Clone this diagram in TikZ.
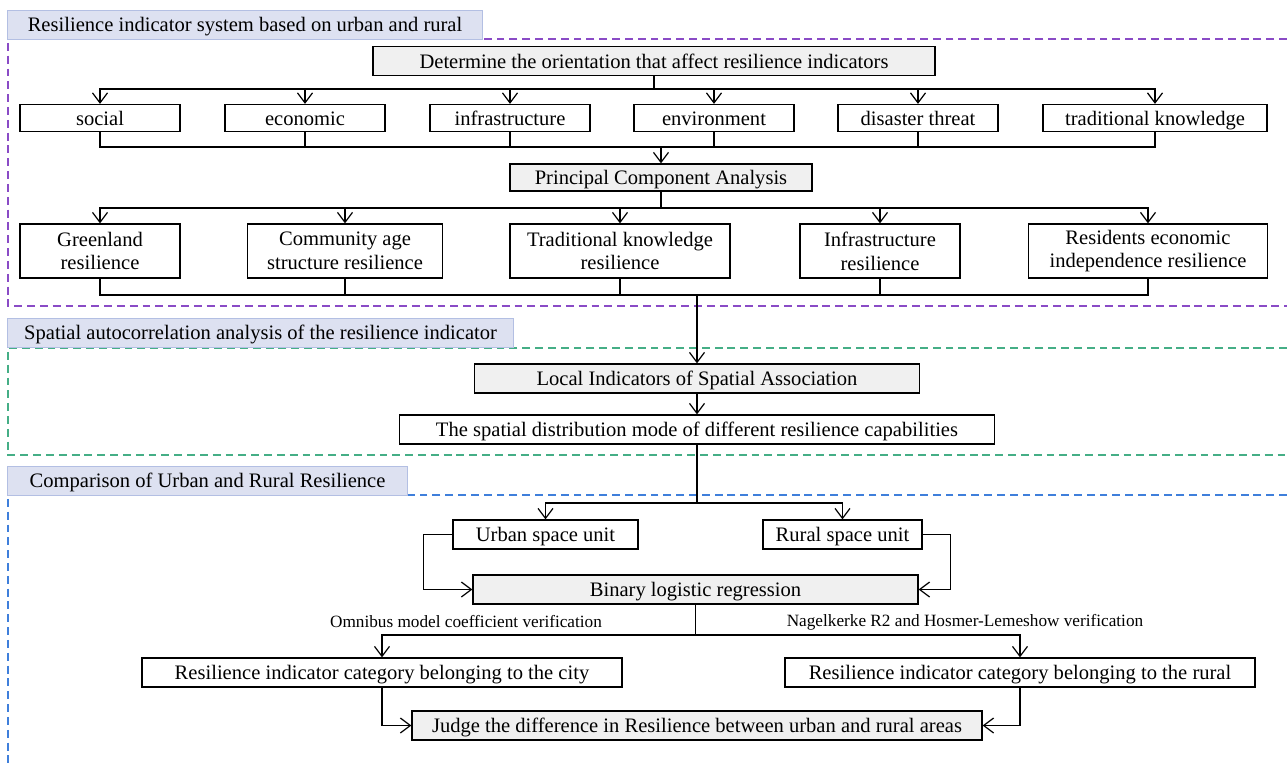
\documentclass[tikz,border=0pt]{standalone}
\usepackage{fontspec}
\setmainfont{Liberation Serif}
\usetikzlibrary{arrows.meta}
\definecolor{boxgray}{HTML}{F0F0F0}
\definecolor{titlefill}{HTML}{DDE1F1}
\definecolor{titleline}{HTML}{B3BFE3}
\definecolor{purpleline}{HTML}{8A4BC6}
\definecolor{greenline}{HTML}{45AE86}
\definecolor{blueline}{HTML}{3F7FDB}
\tikzset{
    cell/.style={draw, line width=0.7pt, inner sep=0pt, font=\fontsize{11.7}{13.5}\selectfont, align=center},
    box/.style={cell, minimum height=5.8mm, text height=9.2pt, text depth=1.2pt},
    graybox/.style={box, fill=boxgray},
    tallbox/.style={cell, minimum height=10.8mm},
    title/.style={draw=titleline, fill=titlefill, line width=0.6pt, inner sep=0pt, anchor=north west, minimum height=5.7mm, text height=9.2pt, text depth=1.2pt, font=\fontsize{11.7}{13.5}\selectfont},
    frame/.style={line width=0.7pt, dash pattern=on 4.5pt off 2.8pt},
    lbl/.style={font=\fontsize{9.8}{11}\selectfont, inner sep=0pt},
    arr/.style={line width=0.7pt, -{Straight Barb[length=2mm,width=3mm]}},
    ln/.style={line width=0.7pt}
}
\begin{document}
\begin{tikzpicture}[x=0.2mm,y=-0.2mm]
    \useasboundingbox (0,0) rectangle (1287,764);

    % frames and titles
    \draw[frame, purpleline] (1287,39) -- (8,39) -- (8,306) -- (1287,306);
    \draw[frame, greenline] (1287,348) -- (8,348) -- (8,455) -- (1287,455);
    \draw[frame, blueline] (1287,495) -- (8,495) -- (8,764);
    \node[title, minimum width=95mm] (t1) at (7,10) {Resilience indicator system based on urban and rural};
    \node[title, minimum width=101.2mm] (t2) at (7,318) {Spatial autocorrelation analysis of the resilience indicator};
    \node[title, minimum width=80mm] (t3) at (7,466) {Comparison of Urban and Rural Resilience};

    % first part
    \node[graybox, minimum width=112.4mm] (det) at (654,61) {Determine the orientation that affect resilience indicators};
    \node[box, minimum width=32mm, minimum height=5.4mm] (soc) at (100,118) {social};
    \node[box, minimum width=32mm, minimum height=5.4mm] (eco) at (305,118) {economic};
    \node[box, minimum width=32mm, minimum height=5.4mm] (inf) at (510,118) {infrastructure};
    \node[box, minimum width=32mm, minimum height=5.4mm] (env) at (714,118) {environment};
    \node[box, minimum width=32mm, minimum height=5.4mm] (dis) at (918,118) {disaster threat};
    \node[box, minimum width=44.8mm, minimum height=5.4mm] (tra) at (1155,118) {traditional knowledge};
    \node[graybox, minimum width=60.4mm, minimum height=5.4mm] (pca) at (661,177.5) {Principal Component Analysis};

    \node[tallbox, minimum width=32mm] (grn) at (100,251) {Greenland\\resilience};
    \node[tallbox, minimum width=39mm] (com) at (345,251) {Community age\\structure resilience};
    \node[tallbox, minimum width=44mm] (trk) at (620,251) {Traditional knowledge\\resilience};
    \node[tallbox, minimum width=32mm] (ifr) at (880,251) {Infrastructure\\resilience};
    \node[tallbox, minimum width=47.8mm] (res) at (1148,251) {Residents economic\\independence resilience};

    \coordinate (bus1) at (654,89);
    \coordinate (bus2) at (661,147);
    \coordinate (bus3) at (661,208);
    \coordinate (bus4) at (697,295);
    \draw[ln] (det.south) -- (bus1);
    \foreach \n in {soc,eco,inf,env,dis,tra}
        \draw[arr] (bus1) -| (\n.north);
    \foreach \n in {soc,eco,inf,env,dis,tra}
        \draw[ln] (\n.south) |- (bus2);
    \draw[arr] (bus2) -- (pca.north);
    \draw[ln] (pca.south) -- (bus3);
    \foreach \n in {grn,com,trk,ifr,res}
        \draw[arr] (bus3) -| (\n.north);
    \foreach \n in {grn,com,trk,ifr,res}
        \draw[ln] (\n.south) |- (bus4);

    % second part
    \node[graybox, minimum width=89mm] (lisa) at (697,378.5) {Local Indicators of Spatial Association};
    \node[box, minimum width=119mm] (dist) at (697,429.5) {The spatial distribution mode of different resilience capabilities};
    \draw[arr] (bus4) -- (lisa.north);
    \draw[arr] (lisa.south) -- (dist.north);

    % third part
    \node[box, minimum width=37mm] (urb) at (545.5,534.5) {Urban space unit};
    \node[box, minimum width=31.8mm] (rur) at (842.5,534.5) {Rural space unit};
    \node[graybox, minimum width=89mm] (bin) at (695.5,589.5) {Binary logistic regression};
    \node[box, minimum width=96mm] (city) at (382,672.5) {Resilience indicator category belonging to the city};
    \node[box, minimum width=94mm] (rcat) at (1020,672.5) {Resilience indicator category belonging to the rural};
    \node[graybox, minimum width=114mm] (jud) at (697,725.5) {Judge the difference in Resilience between urban and rural areas};
    \node[lbl] (omn) at (466,622) {Omnibus model coefficient verification};
    \node[lbl] (nag) at (965,622) {Nagelkerke R2 and Hosmer-Lemeshow verification};

    \coordinate (bus5) at (697,503);
    \coordinate (bus6) at (695.5,635);
    \draw[ln] (dist.south) -- (bus5);
    \draw[arr] (bus5) -| (urb.north);
    \draw[arr] (bus5) -| (rur.north);
    \draw[arr] (urb.west) -- ++(-29,0) |- (bin.west);
    \draw[arr] (rur.east) -- ++(28,0) |- (bin.east);
    \draw[ln] (bin.south) -- (bus6);
    \draw[arr] (bus6) -| (city.north);
    \draw[arr] (bus6) -| (rcat.north);
    \draw[arr] (city.south) |- (jud.west);
    \draw[arr] (rcat.south) |- (jud.east);
\end{tikzpicture}
\end{document}
